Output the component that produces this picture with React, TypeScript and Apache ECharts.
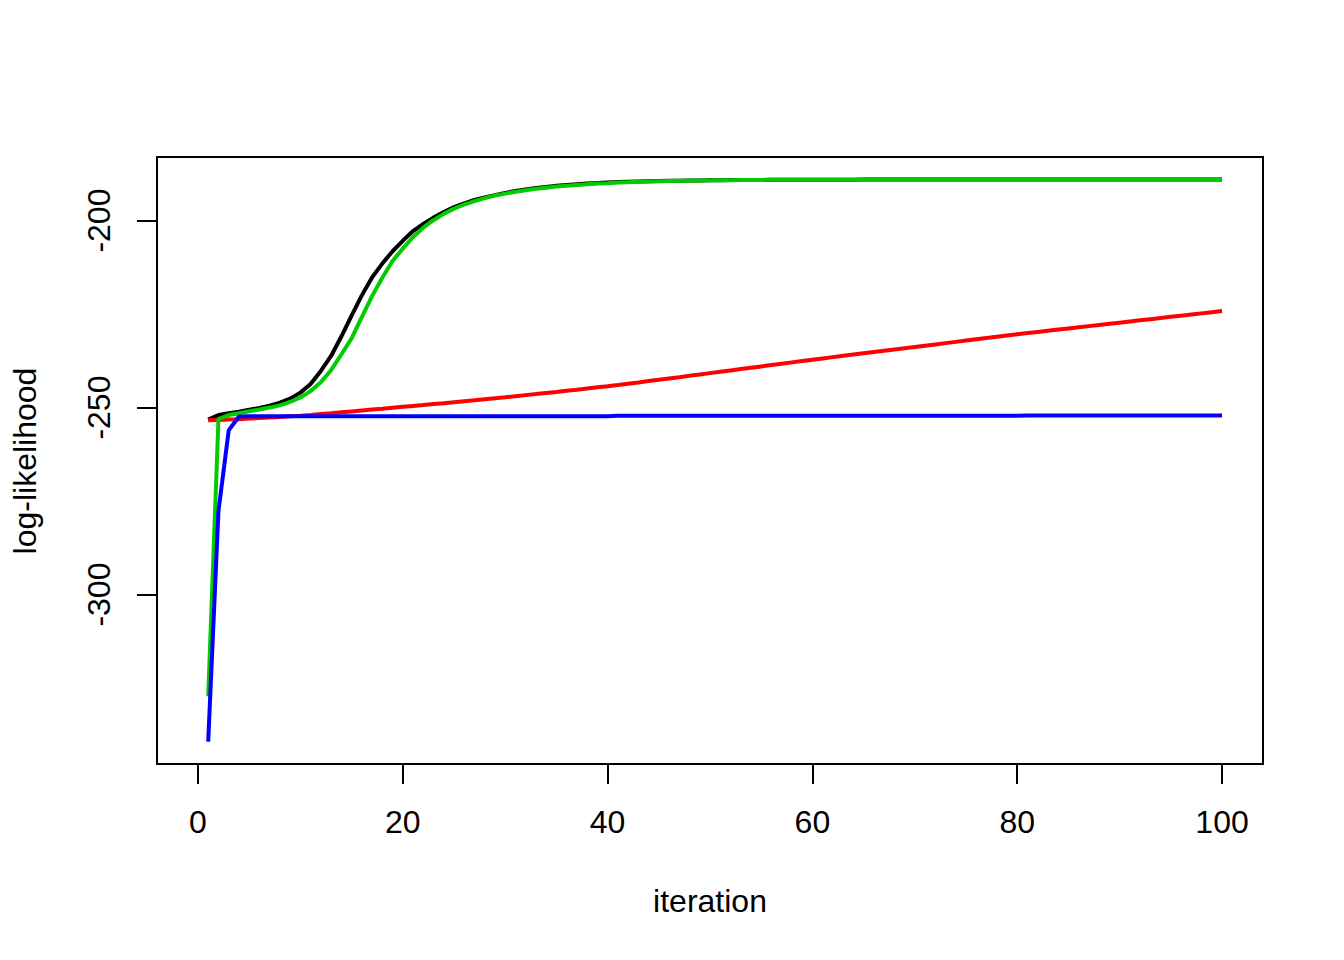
import React, { useEffect, useRef } from "react";
import * as echarts from "echarts";

const xTicks = [0, 20, 40, 60, 80, 100];
const yTicks = [-300, -250, -200];

const blackLL = [
  -253.2, -252.0, -251.5, -251.1, -250.6, -250.1, -249.5, -248.7, -247.6, -246.0,
  -243.7, -240.2, -236.2, -231.0, -225.4, -220.0, -215.2, -211.5, -208.2, -205.4,
  -202.8, -200.9, -199.2, -197.7, -196.4, -195.4, -194.5, -193.8, -193.2, -192.6,
  -192.1, -191.7, -191.3, -191.0, -190.7, -190.5, -190.3, -190.1, -189.95, -189.8,
  -189.7, -189.62, -189.55, -189.48, -189.42, -189.37, -189.33, -189.29, -189.26, -189.23,
  -189.2, -189.18, -189.16, -189.14, -189.12, -189.11, -189.1, -189.09, -189.08, -189.07,
  -189.06, -189.06, -189.05, -189.05, -189.04, -189.04, -189.03, -189.03, -189.03, -189.02,
  -189.02, -189.02, -189.02, -189.01, -189.01, -189.01, -189.01, -189.01, -189.01, -189.0,
  -189.0, -189.0, -189.0, -189.0, -189.0, -189.0, -189.0, -189.0, -189.0, -189.0,
  -189.0, -189.0, -189.0, -189.0, -189.0, -189.0, -189.0, -189.0, -189.0, -189.0,
];

const redLL = [
  -253.4, -253.3, -253.2, -253.1, -252.95, -252.8, -252.65, -252.5, -252.35, -252.2,
  -251.97, -251.73, -251.5, -251.26, -251.02, -250.78, -250.54, -250.3, -250.05, -249.8,
  -249.56, -249.32, -249.07, -248.82, -248.56, -248.3, -248.04, -247.77, -247.5, -247.23,
  -246.95, -246.67, -246.39, -246.1, -245.81, -245.51, -245.21, -244.9, -244.59, -244.28,
  -243.95, -243.61, -243.27, -242.92, -242.57, -242.22, -241.87, -241.51, -241.15, -240.79,
  -240.43, -240.07, -239.71, -239.35, -238.99, -238.63, -238.27, -237.91, -237.55, -237.19,
  -236.85, -236.51, -236.17, -235.83, -235.49, -235.15, -234.81, -234.47, -234.13, -233.79,
  -233.45, -233.11, -232.77, -232.43, -232.09, -231.75, -231.41, -231.07, -230.73, -230.39,
  -230.08, -229.77, -229.46, -229.15, -228.84, -228.53, -228.22, -227.91, -227.6, -227.29,
  -226.98, -226.67, -226.36, -226.05, -225.74, -225.43, -225.12, -224.81, -224.5, -224.2,
];

const greenLL = [
  -327.2, -253.1, -252.0, -251.5, -251.0, -250.5, -250.0, -249.4, -248.5, -247.3,
  -245.6, -243.2, -240.0, -235.8, -231.5, -225.8, -220.2, -215.3, -210.8, -207.5,
  -204.4, -201.9, -199.9, -198.2, -196.8, -195.7, -194.8, -194.0, -193.3, -192.8,
  -192.3, -191.9, -191.5, -191.2, -190.9, -190.7, -190.5, -190.3, -190.1, -190.0,
  -189.85, -189.75, -189.65, -189.57, -189.5, -189.44, -189.38, -189.33, -189.29, -189.25,
  -189.22, -189.19, -189.17, -189.15, -189.13, -189.11, -189.1, -189.09, -189.08, -189.07,
  -189.06, -189.06, -189.05, -189.05, -189.04, -189.04, -189.03, -189.03, -189.03, -189.02,
  -189.02, -189.02, -189.02, -189.01, -189.01, -189.01, -189.01, -189.01, -189.01, -189.0,
  -189.0, -189.0, -189.0, -189.0, -189.0, -189.0, -189.0, -189.0, -189.0, -189.0,
  -189.0, -189.0, -189.0, -189.0, -189.0, -189.0, -189.0, -189.0, -189.0, -189.0,
];

const blueLL = [
  -339.3, -277.7, -256.1, -252.4, -252.3, -252.3, -252.3, -252.3, -252.3, -252.3,
  -252.3, -252.3, -252.3, -252.3, -252.3, -252.3, -252.3, -252.3, -252.3, -252.3,
  -252.3, -252.3, -252.3, -252.3, -252.3, -252.3, -252.3, -252.3, -252.3, -252.3,
  -252.3, -252.3, -252.3, -252.3, -252.3, -252.3, -252.3, -252.3, -252.3, -252.3,
  -252.2, -252.2, -252.2, -252.2, -252.2, -252.2, -252.2, -252.2, -252.2, -252.2,
  -252.2, -252.2, -252.2, -252.2, -252.2, -252.2, -252.2, -252.2, -252.2, -252.2,
  -252.2, -252.2, -252.2, -252.2, -252.2, -252.2, -252.2, -252.2, -252.2, -252.2,
  -252.2, -252.2, -252.2, -252.2, -252.2, -252.2, -252.2, -252.2, -252.2, -252.2,
  -252.1, -252.1, -252.1, -252.1, -252.1, -252.1, -252.1, -252.1, -252.1, -252.1,
  -252.1, -252.1, -252.1, -252.1, -252.1, -252.1, -252.1, -252.1, -252.1, -252.1,
];

const seriesDefs = [
  { name: "black", color: "#000000", values: blackLL },
  { name: "red", color: "#FF0000", values: redLL },
  { name: "green", color: "#00CD00", values: greenLL },
  { name: "blue", color: "#0000FF", values: blueLL },
];

const FONT = "'Liberation Sans', Arial, Helvetica, sans-serif";

export default function App() {
  const ref = useRef<HTMLDivElement>(null);
  useEffect(() => {
    if (!ref.current) return;
    const chart = echarts.init(ref.current, null, { renderer: "svg" });
    chart.setOption({
      animation: false,
      backgroundColor: "#ffffff",
      grid: {
        left: 157,
        top: 157,
        width: 1106,
        height: 607,
        show: true,
        borderColor: "#000",
        borderWidth: 2,
        backgroundColor: "transparent",
        containLabel: false,
        outerBoundsMode: "none",
      },
      xAxis: {
        type: "value",
        min: -4,
        max: 104,
        axisLine: { show: false, onZero: false },
        splitLine: { show: false },
        axisTick: {
          show: true,
          length: 20,
          lineStyle: { color: "#000", width: 2 },
          customValues: xTicks,
        },
        axisLabel: {
          customValues: xTicks,
          fontSize: 32,
          color: "#000",
          fontFamily: FONT,
          margin: 42,
        },
      },
      yAxis: {
        type: "value",
        min: -345.3,
        max: -183.0,
        axisLine: { show: false, onZero: false },
        splitLine: { show: false },
        axisTick: {
          show: true,
          length: 20,
          lineStyle: { color: "#000", width: 2 },
          customValues: yTicks,
        },
        axisLabel: {
          customValues: yTicks,
          fontSize: 32,
          color: "#000",
          fontFamily: FONT,
          rotate: 90,
          margin: 42,
        },
      },
      graphic: [
        {
          type: "text",
          x: 710,
          y: 901,
          style: {
            text: "iteration",
            fontSize: 32,
            fontFamily: FONT,
            fill: "#000",
            align: "center",
            verticalAlign: "middle",
          },
        },
        {
          type: "text",
          x: 25,
          y: 461,
          rotation: Math.PI / 2,
          style: {
            text: "log-likelihood",
            fontSize: 32,
            fontFamily: FONT,
            fill: "#000",
            align: "center",
            verticalAlign: "middle",
          },
        },
      ],
      series: seriesDefs.map((s) => ({
        name: s.name,
        type: "line",
        data: s.values.map((v, i) => [i + 1, v]),
        showSymbol: false,
        symbol: "none",
        lineStyle: { color: s.color, width: 4 },
        itemStyle: { color: s.color },
      })),
    });
    return () => chart.dispose();
  }, []);
  return (
    <div
      ref={ref}
      style={{ position: "fixed", left: 0, top: 0, width: 1344, height: 960, background: "#fff" }}
    />
  );
}
